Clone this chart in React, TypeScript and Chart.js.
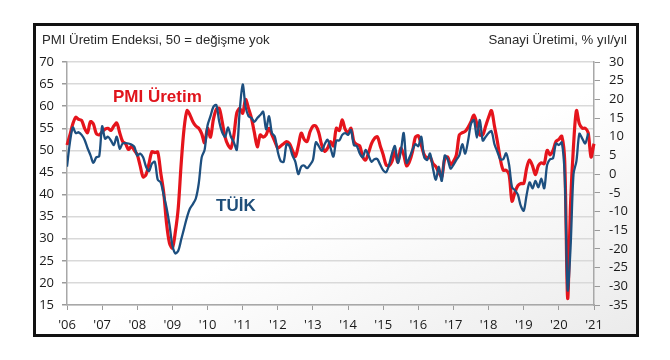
import React, { useEffect, useRef } from 'react';
import { Chart, registerables } from 'chart.js';

Chart.register(...registerables);

// x positions are month indices counted from Jan 2006 (0) ; '21 tick = 180
const yearTickLabels = ["'06", "'07", "'08", "'09", "'10", "'11", "'12", "'13", "'14", "'15", "'16", "'17", "'18", "'19", "'20", "'21"];
const leftAxisRange = [15, 70];
const rightAxisRange = [-35, 30];

// PMI Üretim Endeksi (left axis), monthly Jan 2006 – Feb 2021
const pmiOutput = [
  51.2, 53.5, 56, 57.5, 57, 56.8, 55, 54, 56.5, 56, 53.8, 53.5,
  54.2, 54.8, 55, 54.5, 55.5, 56.2, 54, 52, 51.5, 50.2, 50.9, 50,
  49, 46.5, 44, 44.5, 47, 49.7, 49.5, 49.6, 45, 40.6, 33.5, 29,
  27.9, 31.5, 37, 47, 55, 59, 58, 56.5, 55.5, 55, 53.8, 51.7,
  55, 53, 57, 59.3, 59.5, 56.5, 53, 51.2, 50.5, 53.5, 58.5, 59.5,
  58.4, 61.5, 59.5, 57.3, 54, 50.8, 53.5, 53, 53.5, 55, 53.5, 52,
  50.5, 51, 51.5, 52, 51.5, 50, 48.6, 51, 53.9, 52.5, 52, 54.2,
  55.5, 55.5, 54, 51.2, 49.8, 50.5, 52, 51, 55, 54.5, 56.9, 54.8,
  54, 55, 52, 51.3, 51, 48.5, 47.8, 49.5, 51.5, 52.7, 53.1, 51,
  49, 46.7, 46.5, 47.5, 49.7, 47.4, 50.5, 49, 46.5, 47.5, 49.7, 53,
  53.3, 51.2, 49, 48.3, 48.5, 47, 46.3, 45, 44, 48, 48.5, 46.8,
  47.5, 49, 53.5, 54, 54.3, 55.2, 56.5, 58, 56, 53.5, 53.5, 55.5,
  57.5, 59, 55.5, 52, 48, 45.5, 45.5, 44.5, 38.5, 40.5, 42, 42.5,
  42.5, 46, 47.8, 46.5, 44.5, 46.5, 47.2, 47, 50, 49, 50, 52,
  52.5, 53.2, 47.5, 16.5, 38, 51, 59, 56, 55, 55, 54, 48.5,
  51.5, 53,
];

// TÜİK Sanayi Üretimi, % yıl/yıl (right axis), monthly Jan 2006 – Nov 2020
const tuikIndustrialProduction = [
  2.0, 8.5, 12.5, 11, 11.2, 10.5, 9.2, 7, 5.1, 3, 4.5, 4.8,
  12.8, 9.5, 10, 9, 7.8, 10, 6.8, 8.2, 8.3, 8.2, 7.9, 7.3,
  5, 5.5, 4.5, 2, 0.8, 2.8, 3.3, -1.5, -2.2, -5.5, -9, -13.5,
  -19, -21.2, -20.5, -17.5, -14.5, -11.5, -9.2, -8, -6.5, -2.5, 4.5, 6.5,
  13, 15.5, 18, 18.5, 14, 11.2, 10, 12.5, 10, 8.5, 6.5, 17,
  24, 18, 15.5, 15, 14, 15, 15.8, 16.7, 12, 15.5, 11, 10,
  6, 3.5, 3.3, 8, 7.5, 5, 3.3, 0, 2, 2.3, 1.6, 2.5,
  3.8, 8.5, 7.5, 6.2, 8, 9.2, 7, 4.7, 9, 9, 10.5, 11,
  10.5, 11.8, 7.8, 7.5, 5.5, 4.5, 6.5, 5, 3.3, 4, 4, 2.5,
  1, 0.5, 2.5, 5.5, 7.5, 3, 6, 11, 3, 4.5, 6.5, 8,
  7.5, 10, 4.5, 3.8, 5.5, 1.5, -1.5, 2, -1.8, 5, 4, 1.5,
  2.5, 3.8, 5, 8, 5.5, 9, 13.5, 14.5, 9.8, 14.5, 9, 10,
  11, 11.5, 8, 6, 4, 4, 5.6, 2.5, -3.5, -4.3, -5.5, -8.5,
  -9.8, -5.5, -2.2, -3.8, -1.8, -3.5, -1.2, -3.8, 2.5, 4, 4.2, 8.2,
  7.8, 8.5, -0.5, -31, -19.5, 0, 3.5, 10.8, 9.5, 8.2, 10.9,
];

const TICK_FONT = { family: "'Open Sans', 'Liberation Sans', sans-serif", size: 13 };

export default function App() {
  const canvasRef = useRef<HTMLCanvasElement | null>(null);

  useEffect(() => {
    const canvas = canvasRef.current;
    if (!canvas) return;
    const chart = new Chart(canvas, {
      type: 'line',
      data: {
        datasets: [
          {
            label: 'TÜİK',
            data: tuikIndustrialProduction.map((v, i) => ({ x: i, y: v })),
            yAxisID: 'y1',
            borderColor: '#1d4f7f',
            borderWidth: 2.3,
            pointRadius: 0,
            tension: 0.3,
            order: 0,
          },
          {
            label: 'PMI Üretim',
            data: pmiOutput.map((v, i) => ({ x: i, y: v })),
            yAxisID: 'y',
            borderColor: '#e5141c',
            borderWidth: 3.2,
            pointRadius: 0,
            tension: 0.3,
            order: 1,
            clip: false as any,
          },
        ],
      },
      options: {
        animation: false,
        responsive: false,
        maintainAspectRatio: false,
        layout: { padding: { top: 36, left: 0, right: 0, bottom: 0 } },
        plugins: { legend: { display: false }, tooltip: { enabled: false } },
        scales: {
          x: {
            type: 'linear',
            min: 0,
            max: 180,
            afterFit: (s: any) => { s.height = 29; },
            afterBuildTicks: (s: any) => { s.ticks = yearTickLabels.map((_, i) => ({ value: i * 12 })); },
            ticks: {
              autoSkip: false,
              maxRotation: 0,
              padding: 7,
              color: '#1a1a1a',
              font: TICK_FONT,
              callback: (v: any) => yearTickLabels[Math.round(Number(v) / 12)] ?? '',
            },
            grid: { drawOnChartArea: false, drawTicks: true, tickLength: 5, tickColor: '#9a9a9a' },
            border: { display: true, color: '#a8a8a8', width: 1.5 },
          },
          y: {
            position: 'left',
            min: leftAxisRange[0],
            max: leftAxisRange[1],
            afterFit: (s: any) => { s.width = 31; },
            ticks: { stepSize: 5, padding: 8, color: '#1a1a1a', font: TICK_FONT },
            grid: { color: '#d9d9d9', lineWidth: 1.5, drawTicks: true, tickLength: 5, tickColor: '#9a9a9a' },
            border: { display: true, color: '#a8a8a8', width: 1.5 },
          },
          y1: {
            position: 'right',
            min: rightAxisRange[0],
            max: rightAxisRange[1],
            afterFit: (s: any) => { s.width = 42; },
            ticks: { stepSize: 5, padding: 9, color: '#1a1a1a', font: TICK_FONT },
            grid: { drawOnChartArea: false, drawTicks: true, tickLength: 6, tickColor: '#9a9a9a' },
            border: { display: true, color: '#a8a8a8', width: 1.5 },
          },
        },
      },
    });
    return () => chart.destroy();
  }, []);

  const titleFont = "'Liberation Sans', Arial, sans-serif";

  return (
    <div
      style={{
        position: 'absolute',
        left: 33,
        top: 23,
        width: 606,
        height: 314,
        boxSizing: 'border-box',
        border: '3px solid #111',
        background: 'linear-gradient(155deg, #ffffff 55%, #ebebeb 100%)',
        fontFamily: titleFont,
      }}
    >
      <canvas ref={canvasRef} width={600} height={308} style={{ position: 'absolute', left: 0, top: 0, display: 'block' }} />
      <div style={{ position: 'absolute', left: 6, top: 6, fontSize: 13.2, lineHeight: '16px', color: '#2a2a2a', whiteSpace: 'nowrap' }}>
        PMI Üretim Endeksi, 50 = değişme yok
      </div>
      <div style={{ position: 'absolute', right: 9, top: 6, fontSize: 13.2, lineHeight: '16px', color: '#2a2a2a', whiteSpace: 'nowrap' }}>
        Sanayi Üretimi, % yıl/yıl
      </div>
      <div style={{ position: 'absolute', left: 77, top: 62, fontSize: 17, lineHeight: '17px', fontWeight: 'bold', color: '#e0141c', whiteSpace: 'nowrap' }}>
        PMI Üretim
      </div>
      <div style={{ position: 'absolute', left: 180, top: 171, fontSize: 17, lineHeight: '17px', fontWeight: 'bold', color: '#1f4e79', whiteSpace: 'nowrap' }}>
        TÜİK
      </div>
    </div>
  );
}
